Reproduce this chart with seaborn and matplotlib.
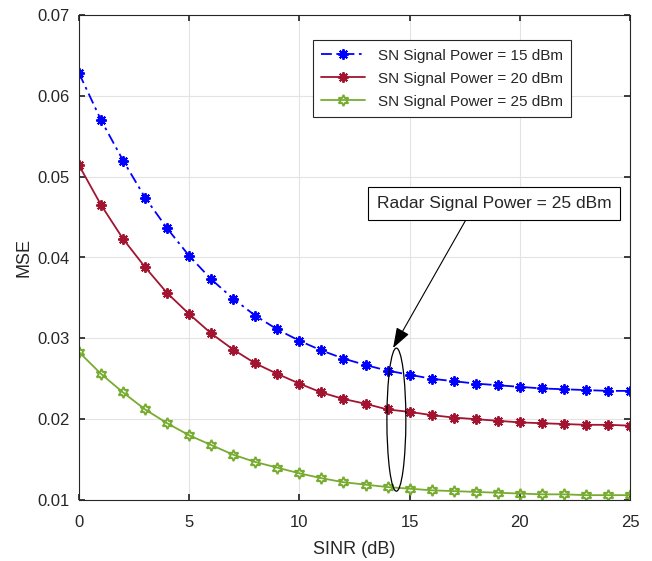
import numpy as np
import pandas as pd
import matplotlib
matplotlib.use("Agg")
import matplotlib.pyplot as plt
import seaborn as sns
from matplotlib.patches import Ellipse

sinr = list(range(0, 26))
mse_15 = [0.0628, 0.0570, 0.0520, 0.0474, 0.0436, 0.0402, 0.0373, 0.0349, 0.0328, 0.0311,
          0.0297, 0.0285, 0.0275, 0.0267, 0.0260, 0.0255, 0.0250, 0.0247, 0.0244, 0.0242,
          0.0240, 0.0238, 0.0237, 0.0236, 0.0235, 0.0235]
mse_20 = [0.0514, 0.0465, 0.0423, 0.0388, 0.0356, 0.0330, 0.0306, 0.0286, 0.0269, 0.0256,
          0.0244, 0.0233, 0.0225, 0.0219, 0.0212, 0.0209, 0.0205, 0.0202, 0.0200, 0.0198,
          0.0196, 0.0195, 0.0194, 0.0193, 0.0193, 0.0192]
mse_25 = [0.0283, 0.0256, 0.0233, 0.0212, 0.0195, 0.0180, 0.0168, 0.0156, 0.0147, 0.0140,
          0.0133, 0.0127, 0.0122, 0.0119, 0.0116, 0.0114, 0.0112, 0.0111, 0.0110, 0.0109,
          0.0108, 0.0107, 0.0107, 0.0106, 0.0106, 0.0106]
labels = ["SN Signal Power = 15 dBm", "SN Signal Power = 20 dBm", "SN Signal Power = 25 dBm"]

sns.set_theme(style="whitegrid")
plt.rcParams['font.family'] = ['Liberation Sans', 'DejaVu Sans']

fig = plt.figure(figsize=(6.52, 5.61), dpi=100)
ax = fig.add_axes([79/652, 1-500/561, (630-79)/652, (500-15)/561])

series = [mse_15, mse_20, mse_25]
colors = ["#0000FF", "#A2142F", "#77AC30"]
styles = [(0, (6, 2.5, 1.5, 2.5)), "-", "-"]
markers = [(8, 2, 0), (8, 2, 0), (6, 1, 0)]
msizes = [7.5, 7.5, 8]
faces = ["#0000FF", "#A2142F", "none"]

for ys, c, lab in zip(series, colors, labels):
    sns.lineplot(x=sinr, y=ys, ax=ax, color=c, label=lab, legend=False)

for line, c, ls, m, ms, fc in zip(ax.lines, colors, styles, markers, msizes, faces):
    line.set_linestyle(ls)
    line.set_linewidth(1.3)
    line.set_color(c)
    line.set_marker(m)
    line.set_markersize(ms)
    line.set_markeredgewidth(1.4)
    line.set_markeredgecolor(c)
    line.set_markerfacecolor(fc)

ax.set_xlim(0, 25)
ax.set_ylim(0.01, 0.07)
ax.set_xticks([0, 5, 10, 15, 20, 25])
ax.set_yticks([0.01, 0.02, 0.03, 0.04, 0.05, 0.06, 0.07])
ax.set_yticklabels(["0.01", "0.02", "0.03", "0.04", "0.05", "0.06", "0.07"])
ax.grid(True, color="#E3E3E3", linewidth=0.8)
for s in ax.spines.values():
    s.set_visible(True)
    s.set_color("#262626")
    s.set_linewidth(0.8)
ax.tick_params(axis="both", labelsize=12, colors="#262626", length=4, direction="in",
               left=True, bottom=True, top=True, right=True, pad=7)
ax.tick_params(axis="x", pad=11)
ax.set_xlabel("SINR (dB)", fontsize=13, color="#262626", labelpad=8)
ax.set_ylabel("MSE", fontsize=13, color="#262626", labelpad=3)

leg = ax.legend(ax.lines, labels, loc="upper right", bbox_to_anchor=(0.907, 0.964), fontsize=11,
                frameon=True, fancybox=False, edgecolor="#262626", framealpha=1,
                handlelength=2.9, borderpad=0.55, labelspacing=0.6)
leg.get_frame().set_linewidth(0.8)

ell = Ellipse((14.4, 0.01994), width=0.86, height=0.0177, fill=False,
              edgecolor="black", linewidth=0.9, zorder=5)
ax.add_patch(ell)

ax.annotate("Radar Signal Power = 25 dBm", xy=(14.25, 0.0288), xytext=(18.85, 0.0467),
            fontsize=12.5, ha="center", va="center",
            bbox=dict(boxstyle="square,pad=0.5", fc="white", ec="black", lw=0.8),
            arrowprops=dict(arrowstyle="-|>,head_length=1.0,head_width=0.35", color="black",
                            lw=0.8, relpos=(0.4, 0.0), shrinkA=0, shrinkB=0))

fig.savefig("out.png", dpi=100)
